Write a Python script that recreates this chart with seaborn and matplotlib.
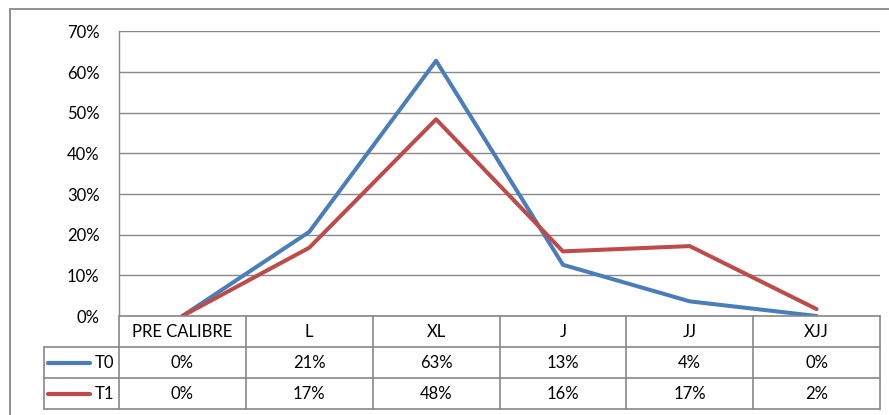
import pandas as pd
import matplotlib.pyplot as plt
import seaborn as sns
from matplotlib.lines import Line2D
from matplotlib.ticker import PercentFormatter, MultipleLocator

categories = ["PRE CALIBRE", "L", "XL", "J", "JJ", "XJJ"]
series_names = ["T0", "T1"]
t0_values = [0.0, 0.207, 0.628, 0.126, 0.036, 0.0]
t1_values = [0.0, 0.168, 0.484, 0.159, 0.172, 0.017]
t0_labels = ["0%", "21%", "63%", "13%", "4%", "0%"]
t1_labels = ["0%", "17%", "48%", "16%", "17%", "2%"]

colors = {"T0": "#4A7EBB", "T1": "#BE4B48"}
GRID = "#888888"
FS = 12

df = pd.DataFrame({
    "size": categories * 2,
    "share": t0_values + t1_values,
    "series": ["T0"] * len(categories) + ["T1"] * len(categories),
})

sns.set_theme(style="white")
plt.rcParams["font.family"] = ["Lato", "DejaVu Sans"]

W, H = 889, 415
fig = plt.figure(figsize=(W / 100, H / 100), dpi=100)
left, right, top, bottom = 119, 880, 31.5, 316
ax = fig.add_axes([left / W, (H - bottom) / H, (right - left) / W, (bottom - top) / H])

sns.lineplot(data=df, x="size", y="share", hue="series", palette=colors,
             linewidth=2.9, legend=False, sort=False, ax=ax)

ax.set_xlim(-0.5, len(categories) - 0.5)
ax.set_ylim(0, 0.7)
ax.yaxis.set_major_locator(MultipleLocator(0.1))
ax.yaxis.set_major_formatter(PercentFormatter(1.0, decimals=0))
ax.grid(axis="y", color=GRID, linewidth=1.0)
ax.set_axisbelow(True)
ax.set_xlabel("")
ax.set_ylabel("")
ax.set_xticks([])
ax.tick_params(axis="y", length=0, pad=14, labelsize=FS, labelcolor="#000000")
for side in ["top", "right", "bottom"]:
    ax.spines[side].set_visible(False)
ax.spines["left"].set_color(GRID)
ax.spines["left"].set_linewidth(1.0)

# data table under the plot (x in category units, y in axes fraction)
trans = ax.get_xaxis_transform()
ph = bottom - top
row_h = 31 / ph
rows_y = [0, -row_h, -2 * row_h, -3 * row_h]
unit_px = (right - left) / len(categories)
x_lab = -0.5 - (left - 44) / unit_px
n = len(categories)
line_kw = dict(transform=trans, color=GRID, linewidth=1.2, clip_on=False)

ax.add_line(Line2D([-0.5, n - 0.5], [rows_y[0]] * 2, **line_kw))
for yy in rows_y[1:]:
    ax.add_line(Line2D([x_lab, n - 0.5], [yy] * 2, **line_kw))
for i in range(n + 1):
    ax.add_line(Line2D([i - 0.5] * 2, [rows_y[0], rows_y[3]], **line_kw))
ax.add_line(Line2D([x_lab] * 2, [rows_y[1], rows_y[3]], **line_kw))

txt_kw = dict(transform=trans, ha="center", va="center", fontsize=FS, color="#000000", clip_on=False)
for i, cat in enumerate(categories):
    ax.text(i, (rows_y[0] + rows_y[1]) / 2, cat, **txt_kw)
for r, (name, labels) in enumerate(zip(series_names, [t0_labels, t1_labels])):
    yc = (rows_y[r + 1] + rows_y[r + 2]) / 2
    for i, lab in enumerate(labels):
        ax.text(i, yc, lab, **txt_kw)
    x0 = x_lab + 4 / unit_px
    x1 = x_lab + 46 / unit_px
    ax.add_line(Line2D([x0, x1], [yc, yc], transform=trans, color=colors[name],
                       linewidth=3.0, solid_capstyle="round", clip_on=False))
    ax.text(-0.5 - 5 / unit_px, yc, name, transform=trans, ha="right", va="center",
            fontsize=FS, color="#000000", clip_on=False)

# outer chart border
fig.add_artist(Line2D([9.5 / W, 9.5 / W], [0, (H - 9) / H], color=GRID, linewidth=1.3))
fig.add_artist(Line2D([9.5 / W, 1], [(H - 9) / H] * 2, color=GRID, linewidth=1.3))

fig.savefig("out.png", dpi=100)
